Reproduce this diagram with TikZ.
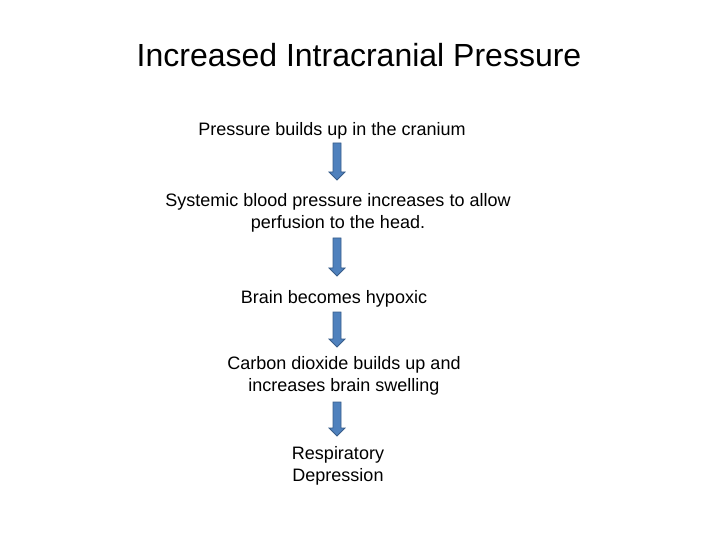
\documentclass[tikz,border=0pt]{standalone}
\usepackage{fontspec}
\setmainfont{Liberation Sans}
\usetikzlibrary{calc}
\definecolor{arrowfill}{HTML}{4F81BD}
\definecolor{arrowline}{HTML}{385D8A}
\tikzset{
    step text/.style={align=center, inner sep=0pt, font=\fontsize{18bp}{21.6bp}\selectfont},
    title text/.style={inner sep=0pt, font=\fontsize{32bp}{38bp}\selectfont},
    block arrow/.style={draw=arrowline, fill=arrowfill, line width=0.8pt, line join=miter,
        to path={let \p1=(\tikztostart), \p2=(\tikztotarget) in
            (\x1-4bp,\y1) -- (\x1+4bp,\y1) -- (\x1+4bp,\y2+8bp) -- (\x1+8bp,\y2+8bp)
            -- (\x1,\y2) -- (\x1-8bp,\y2+8bp) -- (\x1-4bp,\y2+8bp) -- cycle}}
}
\begin{document}
\begin{tikzpicture}[x=1bp, y=-1bp]
    \useasboundingbox (0,0) rectangle (720,540);
    \node[title text] (title) at (359,55) {Increased Intracranial Pressure};
    \node[step text] (builds) at (332,131) {Pressure builds up in the cranium};
    \node[step text] (systemic) at (338,213) {Systemic blood pressure increases to allow\\perfusion to the head.};
    \node[step text] (hypoxic) at (334,299) {Brain becomes hypoxic};
    \node[step text] (carbon) at (344,376) {Carbon dioxide builds up and\\increases brain swelling};
    \node[step text] (resp) at (338,466) {Respiratory\\Depression};
    % arrow ends
    \coordinate (a1) at (337,143); \coordinate (b1) at (337,180);
    \coordinate (a2) at (337,238); \coordinate (b2) at (337,276);
    \coordinate (a3) at (337,312); \coordinate (b3) at (337,347);
    \coordinate (a4) at (337,402); \coordinate (b4) at (337,436);
    \foreach \i in {1,...,4} {
        \path[block arrow] (a\i) to (b\i);
    }
\end{tikzpicture}
\end{document}
